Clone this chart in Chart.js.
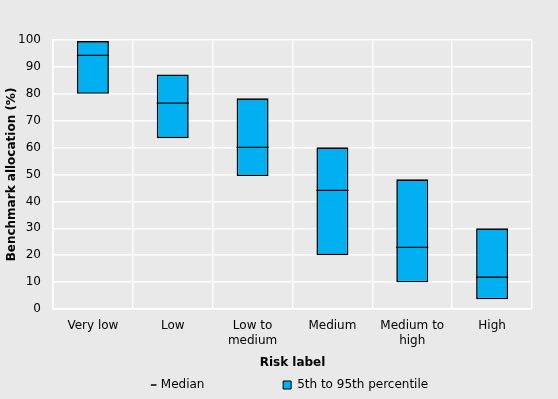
<!DOCTYPE html>
<html>
<head>
<meta charset="utf-8">
<script src="https://cdn.jsdelivr.net/npm/chart.js@4.4.1/dist/chart.umd.min.js"></script>
<style>
  html, body { margin: 0; padding: 0; background: #e9e9e9; }
  #wrap { width: 558px; height: 399px; position: relative; }
</style>
</head>
<body>
<div id="wrap"><canvas id="c" width="558" height="399"></canvas></div>
<script>
const categories = ["Very low", "Low", ["Low to", "medium"], "Medium", ["Medium to", "high"], "High"];
const p5 = [80, 63.5, 49.4, 20, 9.9, 3.6];
const p95 = [99.6, 87.2, 78.3, 60.1, 48.2, 30];
const median = [94.3, 76.5, 60.1, 44.1, 22.9, 11.8];
const yTicks = [0, 10, 20, 30, 40, 50, 60, 70, 80, 90, 100];

const FONT = "'DejaVu Sans', sans-serif";
const ranges = p5.map((v, i) => [v, p95[i]]);

const bgPlugin = {
  id: 'bg',
  beforeDraw(chart) {
    const ctx = chart.ctx;
    ctx.save();
    ctx.fillStyle = '#e9e9e9';
    ctx.fillRect(0, 0, chart.width, chart.height);
    ctx.restore();
  }
};

const legendNudge = {
  id: 'legendNudge',
  afterLayout(chart) {
    const l = chart.legend;
    if (!l) return;
    l.left += 19; l.right += 19;
    l.top += 2; l.bottom += 2;
  }
};

new Chart(document.getElementById('c'), {
  type: 'bar',
  data: {
    labels: categories,
    datasets: [
      {
        type: 'line',
        label: 'Median' + '\u00a0'.repeat(18),
        data: median,
        showLine: false,
        pointStyle: 'line',
        pointRadius: 16,
        pointHoverRadius: 16,
        pointBorderWidth: 1.3,
        pointHoverBorderWidth: 1.3,
        borderColor: '#000000',
        backgroundColor: '#000000',
        order: 0
      },
      {
        label: '5th to 95th percentile',
        data: ranges,
        backgroundColor: '#00b0f0',
        borderColor: '#000000',
        borderWidth: 1.6,
        borderSkipped: false,
        barPercentage: 0.4,
        categoryPercentage: 1.0,
        order: 1
      }
    ]
  },
  options: {
    responsive: false,
    animation: false,
    layout: { padding: { left: 5, right: 26, top: 40, bottom: 0 } },
    plugins: {
      tooltip: { enabled: false },
      legend: {
        position: 'bottom',
        labels: {
          font: { family: FONT, size: 12 },
          color: '#000000',
          padding: 10,
          boxWidth: 8,
          boxHeight: 8,
          usePointStyle: true,
          generateLabels(chart) {
            return [
              { text: chart.data.datasets[0].label, fillStyle: '#000', strokeStyle: '#000', lineWidth: 1.5, pointStyle: 'dash', datasetIndex: 0 },
              { text: chart.data.datasets[1].label, fillStyle: '#00b0f0', strokeStyle: '#000', lineWidth: 1, pointStyle: 'rect', datasetIndex: 1 }
            ];
          }
        }
      }
    },
    scales: {
      x: {
        grid: { color: '#ffffff', lineWidth: 1.5, drawTicks: false },
        border: { color: '#ffffff', width: 1.5 },
        ticks: { font: { family: FONT, size: 12 }, color: '#000000', padding: 10, maxRotation: 0, autoSkip: false },
        title: { display: true, text: 'Risk label', font: { family: FONT, size: 12, weight: 'bold' }, color: '#000000', padding: { top: 0, bottom: -3 } },
        afterFit(axis) { axis.height = 58; }
      },
      y: {
        min: 0, max: 100,
        afterBuildTicks(axis) { axis.ticks = yTicks.map(v => ({ value: v })); },
        grid: { color: '#ffffff', lineWidth: 1.5, drawTicks: false },
        border: { color: '#ffffff', width: 1.5 },
        ticks: { font: { family: FONT, size: 12 }, color: '#000000', padding: 12 },
        title: { display: true, text: 'Benchmark allocation (%)', font: { family: FONT, size: 12, weight: 'bold' }, color: '#000000', padding: { top: 0, bottom: 2 } },
        afterFit(axis) { axis.width = 48; }
      }
    }
  },
  plugins: [bgPlugin, legendNudge]
});
</script>
</body>
</html>
